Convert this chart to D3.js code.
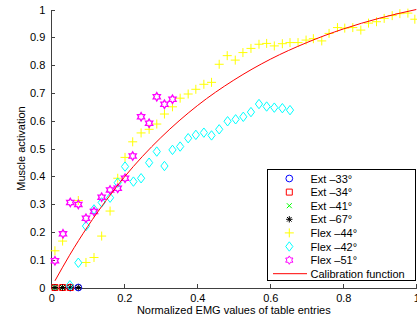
<!DOCTYPE html>
<html lang="en">
  <head>
    <meta charset="UTF-8" />
    <title>Muscle activation</title>
    <style>
      body { margin: 0; background: #fff; }
      svg text { font-family: "Liberation Sans", Arial, sans-serif; font-size: 11px; fill: #000; }
      .axis path, .axis line { stroke: #404040; shape-rendering: crispEdges; }
    </style>
  </head>
  <body>
    <div class="chart"></div>
    <script src="https://d3js.org/d3.v7.min.js"></script>
    <script>
      // data
      const ext33X = [0.052, 0.074];
      const ext34X = [0.010, 0.031, 0.052];
      const ext41X = [0.010, 0.031];
      const ext67X = [0.010, 0.031, 0.052, 0.074];

      const flex44X = [0.010, 0.031, 0.074, 0.095, 0.117, 0.138, 0.161, 0.182, 0.202, 0.223, 0.246, 0.268, 0.289, 0.310, 0.332, 0.353, 0.375, 0.396, 0.418, 0.439, 0.460, 0.482, 0.504, 0.525, 0.547, 0.569, 0.590, 0.611, 0.633, 0.654, 0.676, 0.698, 0.718, 0.741, 0.761, 0.784, 0.804, 0.826, 0.848, 0.869, 0.891, 0.912, 0.934, 0.955, 0.977, 0.996];
      const flex44Y = [0.132, 0.167, 0.313, 0.090, 0.108, 0.185, 0.275, 0.393, 0.468, 0.524, 0.556, 0.569, 0.588, 0.624, 0.650, 0.681, 0.696, 0.713, 0.731, 0.738, 0.803, 0.834, 0.818, 0.845, 0.860, 0.875, 0.878, 0.869, 0.877, 0.881, 0.881, 0.890, 0.895, 0.887, 0.914, 0.935, 0.933, 0.935, 0.926, 0.951, 0.956, 0.968, 0.978, 0.985, 0.987, 0.965];

      const flex42X = [0.051, 0.074, 0.095, 0.117, 0.138, 0.161, 0.182, 0.202, 0.225, 0.246, 0.268, 0.289, 0.310, 0.332, 0.353, 0.375, 0.396, 0.418, 0.439, 0.460, 0.483, 0.505, 0.526, 0.547, 0.569, 0.590, 0.611, 0.633, 0.654];
      const flex42Y = [0.008, 0.089, 0.221, 0.281, 0.306, 0.323, 0.377, 0.435, 0.381, 0.393, 0.449, 0.489, 0.437, 0.495, 0.507, 0.537, 0.549, 0.557, 0.547, 0.569, 0.598, 0.605, 0.614, 0.631, 0.660, 0.651, 0.647, 0.645, 0.638];

      const flex51X = [0.010, 0.032, 0.052, 0.074, 0.095, 0.117, 0.138, 0.161, 0.182, 0.202, 0.223, 0.246, 0.268, 0.289, 0.310, 0.332];
      const flex51Y = [0.096, 0.193, 0.306, 0.299, 0.249, 0.273, 0.325, 0.351, 0.357, 0.393, 0.473, 0.614, 0.591, 0.686, 0.659, 0.677];

      const calibX = [0.01, 0.05, 0.1, 0.15, 0.2, 0.25, 0.3, 0.4, 0.5, 0.6, 0.7, 0.8, 0.9, 1.0];
      const calibY = [0.024, 0.116, 0.220, 0.313, 0.397, 0.472, 0.539, 0.654, 0.746, 0.821, 0.881, 0.930, 0.969, 1.0];

      const xTicks = [0, 0.2, 0.4, 0.6, 0.8, 1];
      const yTicks = [0, 0.1, 0.2, 0.3, 0.4, 0.5, 0.6, 0.7, 0.8, 0.9, 1];
      const legendLabels = ["Ext \u201333\u00b0", "Ext \u201334\u00b0", "Ext \u201341\u00b0", "Ext \u201367\u00b0", "Flex \u201344\u00b0", "Flex \u201342\u00b0", "Flex \u201351\u00b0", "Calibration function"];

      const w = 417, h = 320;
      const svg = d3.select(".chart").append("svg").attr("width", w).attr("height", h);

      const xScale = d3.scaleLinear().domain([0, 1]).range([51.3, 416.3]);
      const yScale = d3.scaleLinear().domain([0, 1]).range([287.5, 9.5]);

      // axes, ticks pointing inward like matlab
      const xAxis = d3.axisBottom(xScale).tickValues(xTicks).tickFormat(d3.format("")).tickSizeInner(-3.5).tickSizeOuter(0).tickPadding(7);
      const yAxis = d3.axisLeft(yScale).tickValues(yTicks).tickFormat(d3.format("")).tickSizeInner(-3.5).tickSizeOuter(0).tickPadding(6);

      svg.append("g").attr("class", "axis").attr("transform", "translate(0,287.5)").call(xAxis);
      svg.append("g").attr("class", "axis").attr("transform", "translate(51.3,0)").call(yAxis);
      svg.selectAll(".axis text").style("font-family", "'Liberation Sans', Arial, sans-serif").style("font-size", "11px").attr("fill", "#000");

      svg.append("text").attr("x", 233.8).attr("y", 314).attr("text-anchor", "middle").text("Normalized EMG values of table entries");
      svg.append("text").attr("transform", "translate(25,148.5) rotate(-90)").attr("text-anchor", "middle").text("Muscle activation");

      // marker shapes
      const star = (r) => {
        const pts = d3.range(12).map((i) => {
          const a = (i * Math.PI) / 6 - Math.PI / 2;
          const rr = i % 2 === 0 ? r : r / Math.sqrt(3);
          return [rr * Math.cos(a), rr * Math.sin(a)];
        });
        return "M" + pts.join("L") + "Z";
      };
      const markers = {
        circle: { d: d3.symbol(d3.symbolCircle, 36)(), color: "#0000ff" },
        square: { d: "M-3,-3H3V3H-3Z", color: "#ff0000" },
        cross: { d: "M-2.5,-2.5L2.5,2.5M-2.5,2.5L2.5,-2.5", color: "#00ff00" },
        aster: { d: "M-3.2,0H3.2M0,-3.2V3.2M-2.3,-2.3L2.3,2.3M-2.3,2.3L2.3,-2.3", color: "#000000" },
        plus: { d: "M-4.5,0H4.5M0,-4.5V4.5", color: "#ffff00" },
        diamond: { d: "M0,-4.7L3.6,0L0,4.7L-3.6,0Z", color: "#00ffff" },
        hexagram: { d: star(4.2), color: "#ff00ff" },
      };

      const series = [
        { xs: ext33X, ys: ext33X.map(() => 0), m: "circle" },
        { xs: ext34X, ys: ext34X.map(() => 0), m: "square" },
        { xs: ext41X, ys: ext41X.map(() => 0), m: "cross" },
        { xs: ext67X, ys: ext67X.map(() => 0), m: "aster" },
        { xs: flex44X, ys: flex44Y, m: "plus" },
        { xs: flex42X, ys: flex42Y, m: "diamond" },
        { xs: flex51X, ys: flex51Y, m: "hexagram" },
      ];

      series.forEach((s) => {
        const mk = markers[s.m];
        svg
          .append("g")
          .selectAll("path")
          .data(s.xs.map((x, i) => ({ x: x, y: s.ys[i] })))
          .enter()
          .append("path")
          .attr("transform", (d) => `translate(${xScale(d.x)},${yScale(d.y)})`)
          .attr("d", mk.d)
          .attr("fill", "none")
          .attr("stroke", mk.color)
          .attr("stroke-width", s.m === "hexagram" ? 1.3 : 1);
      });

      // calibration curve
      const line = d3.line().x((d) => xScale(d[0])).y((d) => yScale(d[1])).curve(d3.curveMonotoneX);
      svg.append("path").datum(calibX.map((x, i) => [x, calibY[i]])).attr("d", line).attr("fill", "none").attr("stroke", "#ff0000").attr("stroke-width", 1);

      // legend
      const lg = svg.append("g");
      lg.append("rect").attr("x", 267.5).attr("y", 169.5).attr("width", 148).attr("height", 111).attr("fill", "#fff").attr("stroke", "#000").attr("stroke-width", 1);
      const legendMarks = ["circle", "square", "cross", "aster", "plus", "diamond", "hexagram", "line"];
      legendLabels.forEach((lab, i) => {
        const cy = 178.5 + i * 13.6;
        if (legendMarks[i] === "line") {
          lg.append("line").attr("x1", 273).attr("x2", 307).attr("y1", cy).attr("y2", cy).attr("stroke", "#ff0000").attr("stroke-width", 1);
        } else {
          const mk = markers[legendMarks[i]];
          lg.append("path").attr("transform", `translate(289.3,${cy})`).attr("d", mk.d).attr("fill", "none").attr("stroke", mk.color).attr("stroke-width", 1);
        }
        lg.append("text").attr("x", 310.5).attr("y", cy + 4).text(lab);
      });
    </script>
  </body>
</html>
